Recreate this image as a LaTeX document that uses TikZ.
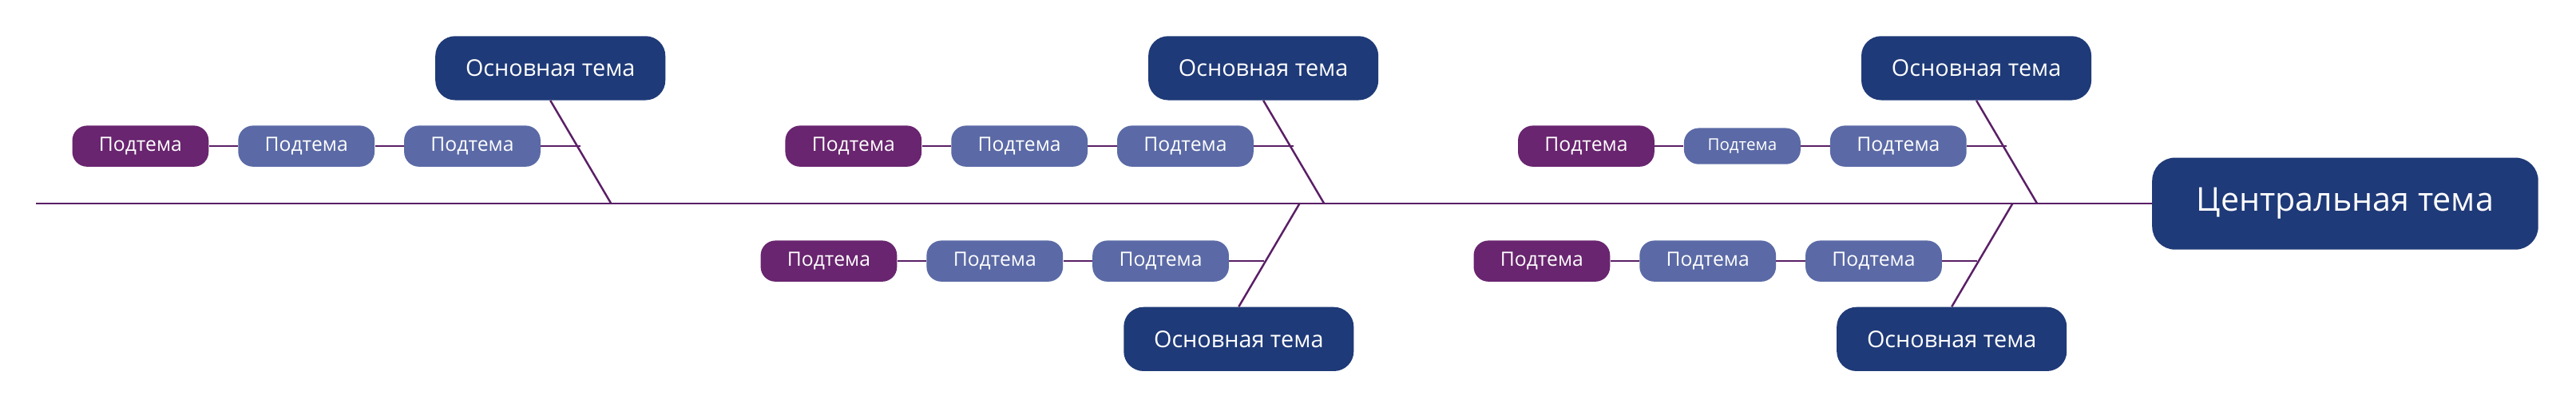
\documentclass[tikz,border=0pt]{standalone}
\usepackage{fontspec}
\setmainfont{Open Sans}
\definecolor{mainblue}{HTML}{1F3A78}
\definecolor{subpurple}{HTML}{69256F}
\definecolor{subblue}{HTML}{5B6AA6}
\definecolor{linec}{HTML}{5A1F66}
\begin{document}
\begin{tikzpicture}[x=1pt,y=-1pt,
  mainbox/.style={fill=mainblue,rounded corners=12pt,text=white,minimum width=140pt,minimum height=39pt,font=\fontsize{14}{16}\selectfont,inner sep=0pt},
  centbox/.style={fill=mainblue,rounded corners=14pt,text=white,minimum width=235pt,minimum height=56pt,font=\fontsize{20}{24}\selectfont,inner sep=0pt},
  subp/.style={fill=subpurple,rounded corners=9pt,text=white,minimum width=83pt,minimum height=25pt,font=\fontsize{12}{14}\selectfont,inner sep=0pt},
  subb/.style={subp,fill=subblue},
  conn/.style={draw=linec,line width=1.2pt}]
\useasboundingbox (0,0) rectangle (1568,255);
\node[centbox] (c) at (1427.5,124) {Центральная тема};
\coordinate (s0) at (22,124);
\draw[conn] (s0) -- (c.west);
% top branches
\foreach \i/\mx in {1/335,2/769,3/1203}{
  \node[mainbox] (m\i) at (\mx,41.5) {Основная тема};
  \coordinate (j\i) at (\mx+37,124);
  \draw[conn] (m\i.south) -- (j\i);
  \coordinate (k\i) at (\mx+16.5+2,89);
}
\node[subp] (a1) at (85.5,89) {Подтема};
\node[subb] (a2) at (186.5,89) {Подтема};
\node[subb] (a3) at (287.5,89) {Подтема};
\node[subp] (b1) at (519.5,89) {Подтема};
\node[subb] (b2) at (620.5,89) {Подтема};
\node[subb] (b3) at (721.5,89) {Подтема};
\node[subp] (d1) at (965.5,89) {Подтема};
\node[subb,minimum width=71pt,minimum height=22pt,font=\fontsize{10}{12}\selectfont] (d2) at (1060.5,89) {Подтема};
\node[subb] (d3) at (1155.5,89) {Подтема};
\draw[conn] (a1) -- (a2) -- (a3) -- (k1);
\draw[conn] (b1) -- (b2) -- (b3) -- (k2);
\draw[conn] (d1) -- (d2) -- (d3) -- (k3);
% bottom branches
\foreach \i/\mx in {4/754,5/1188}{
  \node[mainbox] (m\i) at (\mx,206.5) {Основная тема};
  \coordinate (j\i) at (\mx+37,124);
  \draw[conn] (m\i.north) -- (j\i);
  \coordinate (k\i) at (\mx+37-21.7,159);
}
\node[subp] (e1) at (504.5,159) {Подтема};
\node[subb] (e2) at (605.5,159) {Подтема};
\node[subb] (e3) at (706.5,159) {Подтема};
\node[subp] (f1) at (938.5,159) {Подтема};
\node[subb] (f2) at (1039.5,159) {Подтема};
\node[subb] (f3) at (1140.5,159) {Подтема};
\draw[conn] (e1) -- (e2) -- (e3) -- (k4);
\draw[conn] (f1) -- (f2) -- (f3) -- (k5);
\end{tikzpicture}
\end{document}
